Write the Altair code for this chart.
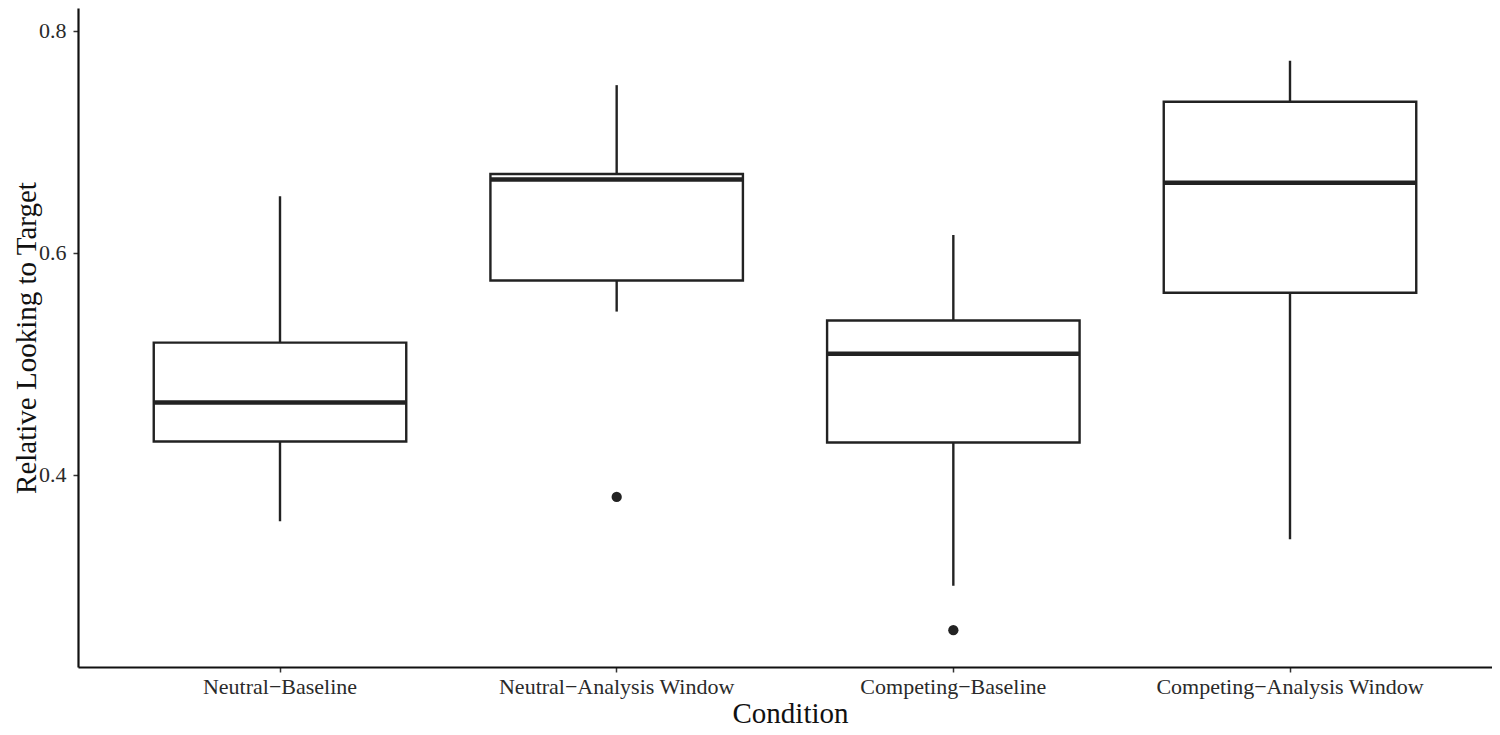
import altair as alt
import pandas as pd

conditions = ["Neutral−Baseline", "Neutral−Analysis Window",
              "Competing−Baseline", "Competing−Analysis Window"]
lower = [0.358, 0.547, 0.300, 0.342]
q1 = [0.430, 0.575, 0.429, 0.564]
median = [0.465, 0.666, 0.509, 0.663]
q3 = [0.519, 0.671, 0.539, 0.736]
upper = [0.651, 0.751, 0.616, 0.773]
outlier_cond = ["Neutral−Analysis Window", "Competing−Baseline"]
outlier_val = [0.380, 0.260]

box = pd.DataFrame({"cond": conditions, "lower": lower, "q1": q1,
                    "median": median, "q3": q3, "upper": upper})
outs = pd.DataFrame({"cond": outlier_cond, "val": outlier_val})

FONT = "Liberation Serif"
W, H = 1414, 659
step = W / 4.2
bw = step * 0.75

xscale = alt.Scale(domain=conditions, paddingInner=0.25, paddingOuter=0.225)
yscale = alt.Scale(domain=[0.2268, 0.8205], nice=False, zero=False)

xax = alt.Axis(title="Condition", labelAngle=0, labelFont=FONT, labelFontSize=22,
               labelLimit=500, labelColor="#2a2a2a", titleFont=FONT, titleFontSize=29,
               titleFontWeight="normal", titleColor="#111111",
               titleBaseline="alphabetic", titleY=55, titleX=W / 2 + 5,
               labelPadding=4, tickSize=5, tickColor="#333333", tickWidth=1.5,
               domainColor="#111111", domainWidth=2.2, grid=False)
yax = alt.Axis(title="Relative Looking to Target", values=[0.4, 0.6, 0.8], format=".1f",
               labelFont=FONT, labelFontSize=22, labelColor="#2a2a2a",
               titleFont=FONT, titleFontSize=29, titleFontWeight="normal",
               titleColor="#111111", titleBaseline="alphabetic", titleAngle=-90,
               titleX=-43, titleY=H / 2, titleLimit=600, labelPadding=7, tickSize=5,
               tickColor="#333333", tickWidth=1.5, domainColor="#111111",
               domainWidth=2.2, grid=False)

base = alt.Chart(box)

whisk = base.mark_rule(color="#222222", strokeWidth=2.4).encode(
    x=alt.X("cond:N", scale=xscale, axis=xax, sort=conditions),
    y=alt.Y("lower:Q", scale=yscale, axis=yax),
    y2="upper:Q",
)
boxes = base.mark_bar(fill="white", stroke="#222222", strokeWidth=2.4).encode(
    x=alt.X("cond:N", scale=xscale, sort=conditions),
    y=alt.Y("q1:Q", scale=yscale),
    y2="q3:Q",
)
med = base.mark_tick(color="#222222", thickness=4.5, size=bw, opacity=1).encode(
    x=alt.X("cond:N", scale=xscale, sort=conditions),
    y=alt.Y("median:Q", scale=yscale),
)
pts = alt.Chart(outs).mark_circle(color="#222222", size=105, opacity=1).encode(
    x=alt.X("cond:N", scale=xscale, sort=conditions),
    y=alt.Y("val:Q", scale=yscale),
)

chart = alt.layer(whisk, boxes, med, pts).properties(
    width=W, height=H,
    autosize=alt.AutoSizeParams(type="none"),
    padding={"left": 70, "top": 0, "right": 0, "bottom": 60},
).configure_view(stroke=None)

chart.save("out.html", embed_options={"renderer": "svg", "actions": False})
